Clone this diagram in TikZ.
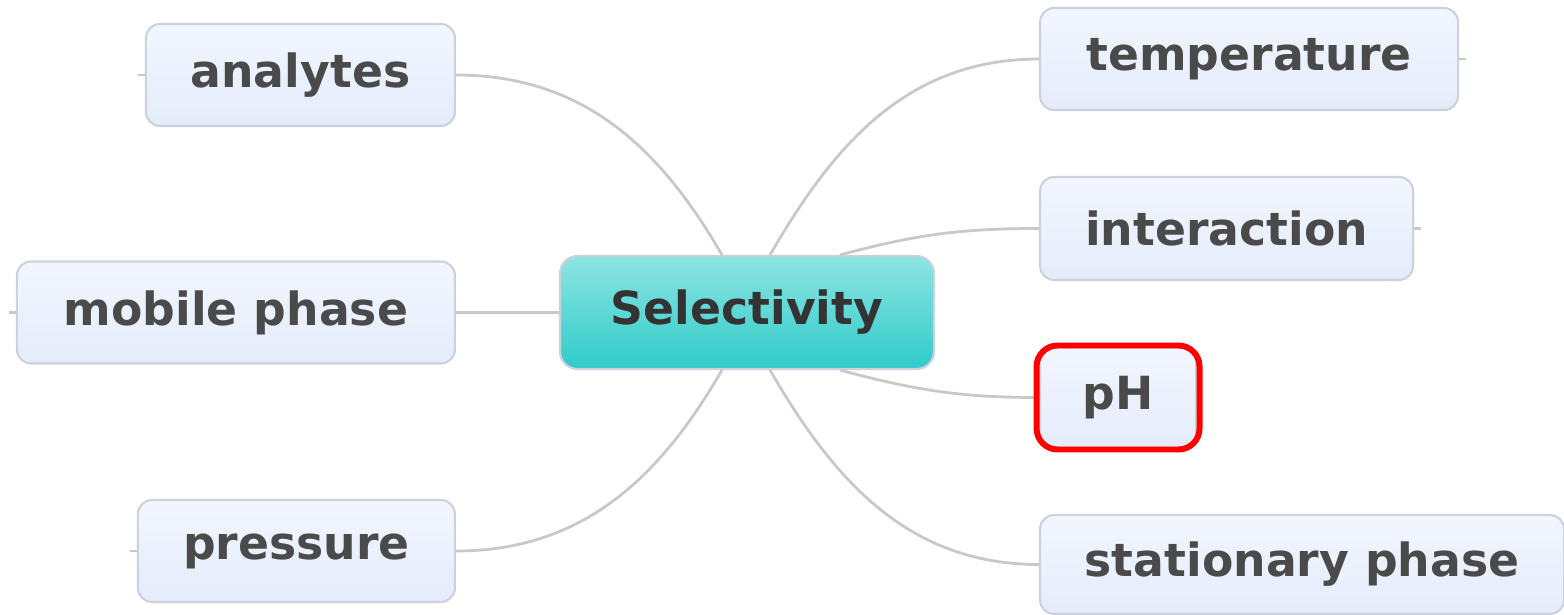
\documentclass[tikz,border=0pt]{standalone}
\usepackage{fontspec}
\setmainfont{DejaVu Sans}
\usetikzlibrary{positioning}

\definecolor{topicTop}{HTML}{F2F6FE}
\definecolor{topicBottom}{HTML}{E4ECFB}
\definecolor{topicBorder}{HTML}{CBD2DC}
\definecolor{topicText}{HTML}{4A4A4A}
\definecolor{centralTop}{HTML}{8DE5E2}
\definecolor{centralBottom}{HTML}{2FCBC9}
\definecolor{centralText}{HTML}{333333}
\definecolor{branchGray}{HTML}{C9C9C9}

\begin{document}
\begin{tikzpicture}[
	topic/.style={rectangle, draw=topicBorder, line width=0.6pt, rounded corners=4pt,
		top color=topicTop, bottom color=topicBottom, text=topicText, text centered,
		font=\fontsize{13}{15}\selectfont\bfseries, minimum height=1.02cm},
	central/.style={rectangle, draw=topicBorder, line width=0.6pt, rounded corners=5pt,
		top color=centralTop, middle color=centralBottom, bottom color=centralBottom,
		text=centralText, text centered, font=\fontsize{13}{15}\selectfont\bfseries,
		minimum width=3.74cm, minimum height=1.13cm},
	highlight/.style={rectangle, draw=red, line width=1.7pt, rounded corners=6pt},
	branch/.style={draw=branchGray, line width=0.8pt}]
			
			\useasboundingbox (-7.47,-3.025) rectangle (8.17,3.125);
			
			%Nodes
			\node (selectivity) at (0, 0) [central] {Selectivity};
			
			\node (analytes) at (-2.91, 2.375) [topic, anchor=east, minimum width=3.09cm] {analytes};
			
			\node (mobilePhase) at (-2.91, 0) [topic, anchor=east, minimum width=4.38cm] {mobile phase};
			
			\node (pressure) at (-2.91,-2.385) [topic, anchor=east, minimum width=3.17cm] {pressure};
			
			\node (temperature) at (2.92, 2.535) [topic, anchor=west, minimum width=4.18cm] {temperature};
			
			\node (interaction) at (2.92, 0.84) [topic, anchor=west, minimum width=3.73cm, 
			minimum height=1.03cm] {interaction};
			
			\node (pH) at (2.92,-0.85) [topic, anchor=west, minimum width=1.56cm, 
			minimum height=1.0cm] {pH};
			
			\node (stationaryPhase) at (2.92,-2.52) [topic, anchor=west, minimum width=5.24cm, 
			minimum height=0.99cm] {stationary phase};
			
			%Links
			\draw [branch] (analytes.east) to [out=0,in=120] ([xshift=-0.25cm]selectivity.north);
			\draw [branch] (mobilePhase.east) -- (selectivity.west);
			\draw [branch] (pressure.east) to [out=0,in=240] ([xshift=-0.25cm]selectivity.south);
			\draw [branch] (temperature.west) to [out=180,in=60] ([xshift=0.23cm]selectivity.north);
			\draw [branch] (interaction.west) to [out=180,in=15] ([xshift=0.93cm]selectivity.north);
			\draw [branch] (pH.west) to [out=180,in=-15] ([xshift=0.93cm]selectivity.south);
			\draw [branch] (stationaryPhase.west) to [out=180,in=-60] ([xshift=0.23cm]selectivity.south);
			
			%Stubs
			\draw [branch] (analytes.west) -- ([xshift=-2pt]analytes.west);
			\draw [branch] (mobilePhase.west) -- ([xshift=-2pt]mobilePhase.west);
			\draw [branch] (pressure.west) -- ([xshift=-2pt]pressure.west);
			\draw [branch] (temperature.east) -- ([xshift=2pt]temperature.east);
			\draw [branch] (interaction.east) -- ([xshift=2pt]interaction.east);
			
			%Highlight
			\node (pHFrame) at (pH.center) [highlight, minimum width=1.63cm, minimum height=1.04cm] {};
			
\end{tikzpicture}
\end{document}
